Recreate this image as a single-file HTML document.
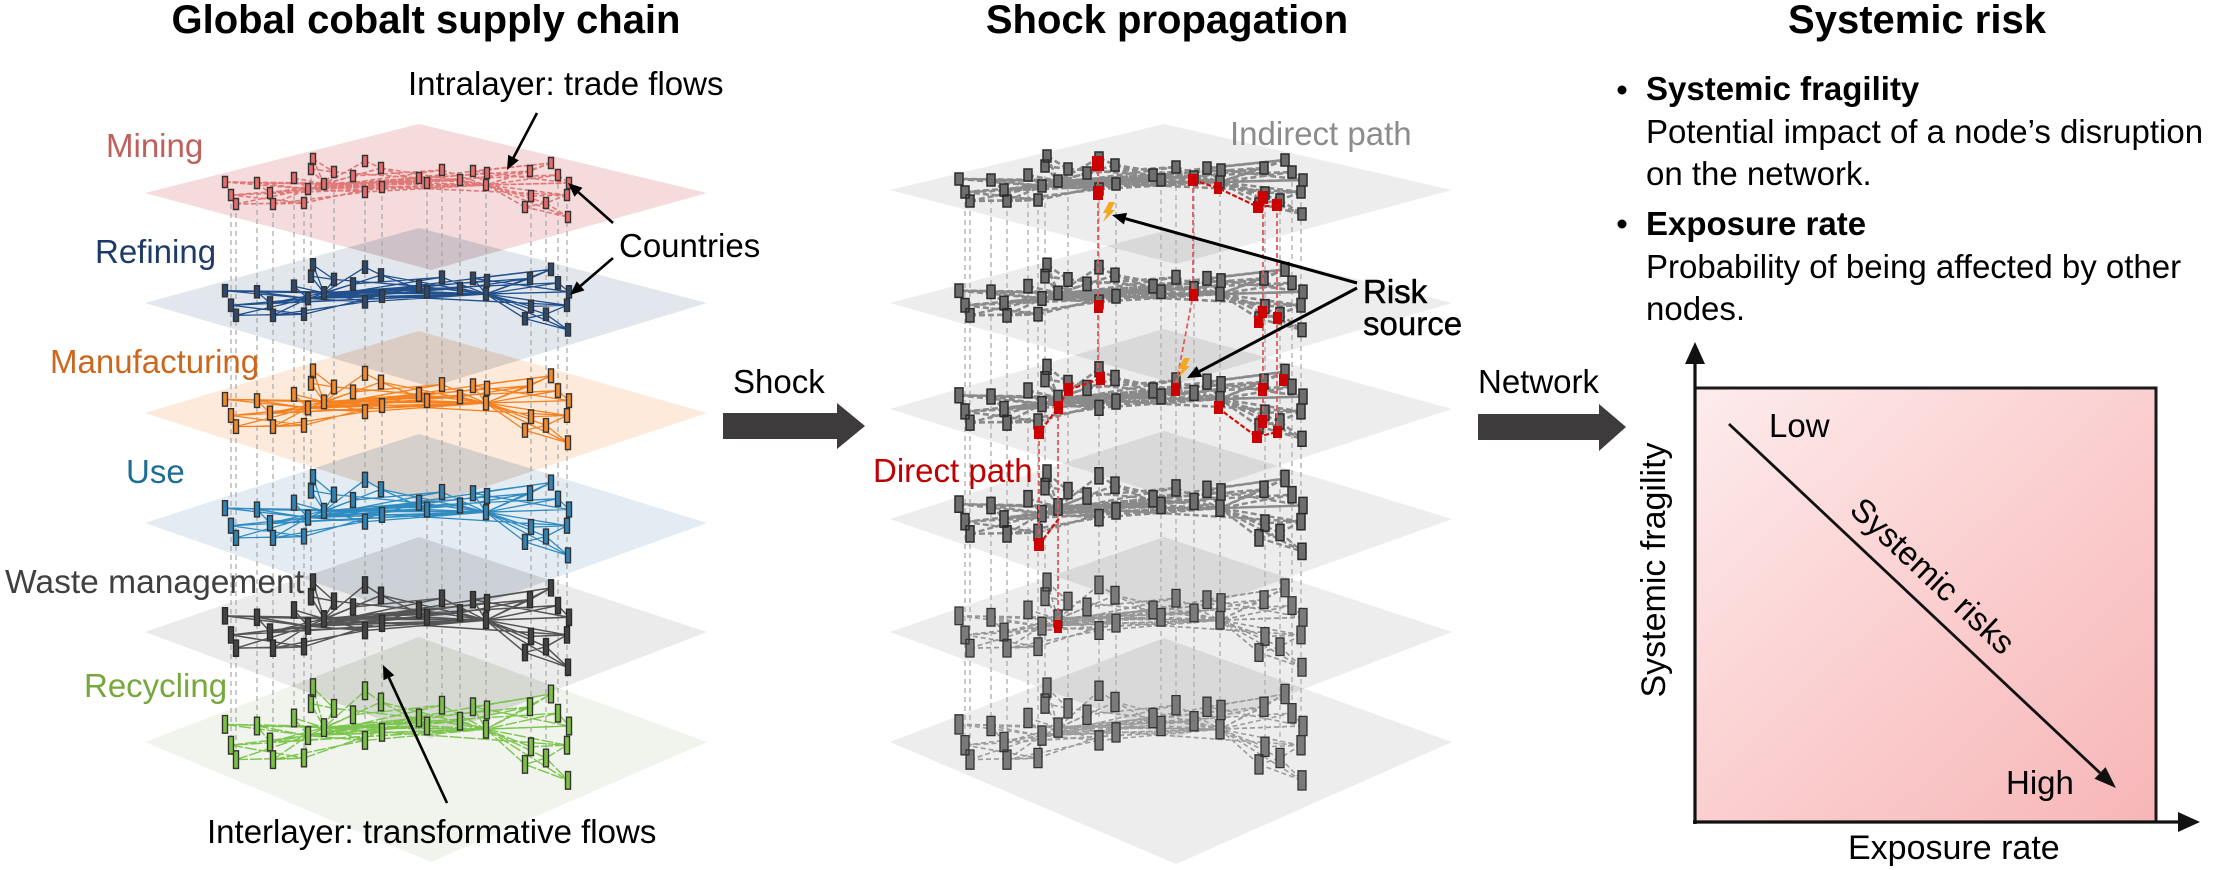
<!DOCTYPE html>
<html><head><meta charset="utf-8"><style>
html,body{margin:0;padding:0;background:#fff;}
svg{display:block;}
text{font-family:"Liberation Sans",Arial,sans-serif;}
</style></head><body>
<svg width="2213" height="870" viewBox="0 0 2213 870" xmlns="http://www.w3.org/2000/svg">
<defs>
<path id="E" fill="none" vector-effect="non-scaling-stroke" d="M225 -11L308 -4M225 -11L324 -9M257 -10L308 -4M257 -10L324 -9M257 -10L270 0M231 2L308 -4M231 2L304 10M236 11L304 10M236 11L308 -4M270 0L308 -4M270 0L324 -9M273 11L308 -4M273 11L304 10M294 -15L308 -4M294 -15L324 -9M304 10L308 -4M313 -34L324 -9M311 -24L324 -9M313 -34L334 -21M311 -24L334 -21M334 -21L324 -9M353 -17L324 -9M353 -17L308 -4M365 -32L381 -25M365 -32L324 -9M365 -1L324 -9M365 -1L308 -4M381 -25L308 -4M381 -25L427 -10M382 -6L324 -9M382 -6L308 -4M419 -15L324 -9M419 -15L308 -4M427 -10L308 -4M427 -10L324 -9M442 -23L486 -8M442 -23L308 -4M460 -13L486 -8M460 -13L324 -9M473 -22L486 -8M487 -20L486 -8M419 -15L486 -8M427 -10L486 -8M382 -6L486 -8M365 -1L486 -8M324 -9L486 -8M308 -4L486 -8M308 -4L460 -13M324 -9L460 -13M334 -21L419 -15M353 -17L442 -23M381 -25L486 -8M530 -22L486 -8M551 -30L486 -8M558 -18L486 -8M569 -10L486 -8M567 2L486 -8M531 3L486 -8M525 14L486 -8M546 10L486 -8M568 24L486 -8M551 -30L530 -22M558 -18L569 -10M567 2L531 3M531 3L525 14M525 14L546 10M546 10L568 24M525 14L568 24M567 2L546 10M530 -22L460 -13M551 -30L473 -22M569 -10L473 -22M308 -4L569 -10M324 -9L558 -18M308 -4L551 -30M324 -9L567 2M486 -8L231 2M486 -8L270 0M486 -8L225 -11M308 -4L487 -20M324 -9L530 -22M304 10L419 -15M273 11L365 -1"/>
<path id="N" vector-effect="non-scaling-stroke" d="M222.5 -16.5h5v11h-5zM254.5 -15.5h5v11h-5zM228.5 -3.5h5v11h-5zM233.5 5.5h5v11h-5zM267.5 -5.5h5v11h-5zM270.5 5.5h5v11h-5zM291.5 -20.5h5v11h-5zM301.5 4.5h5v11h-5zM305.5 -9.5h5v11h-5zM310.5 -39.5h5v11h-5zM308.5 -29.5h5v11h-5zM321.5 -14.5h5v11h-5zM331.5 -26.5h5v11h-5zM350.5 -22.5h5v11h-5zM362.5 -37.5h5v11h-5zM362.5 -6.5h5v11h-5zM378.5 -30.5h5v11h-5zM379.5 -11.5h5v11h-5zM416.5 -20.5h5v11h-5zM424.5 -15.5h5v11h-5zM439.5 -28.5h5v11h-5zM457.5 -18.5h5v11h-5zM470.5 -27.5h5v11h-5zM484.5 -25.5h5v11h-5zM483.5 -13.5h5v11h-5zM527.5 -27.5h5v11h-5zM548.5 -35.5h5v11h-5zM555.5 -23.5h5v11h-5zM566.5 -15.5h5v11h-5zM564.5 -3.5h5v11h-5zM528.5 -2.5h5v11h-5zM522.5 8.5h5v11h-5zM543.5 4.5h5v11h-5zM565.5 18.5h5v11h-5z"/>
<path id="NM" vector-effect="non-scaling-stroke" d="M221 -17h8v12h-8zM253 -16h8v12h-8zM227 -4h8v12h-8zM232 5h8v12h-8zM266 -6h8v12h-8zM269 5h8v12h-8zM290 -21h8v12h-8zM300 4h8v12h-8zM304 -10h8v12h-8zM309 -40h8v12h-8zM307 -30h8v12h-8zM320 -15h8v12h-8zM330 -27h8v12h-8zM349 -23h8v12h-8zM361 -38h8v12h-8zM361 -7h8v12h-8zM377 -31h8v12h-8zM378 -12h8v12h-8zM415 -21h8v12h-8zM423 -16h8v12h-8zM438 -29h8v12h-8zM456 -19h8v12h-8zM469 -28h8v12h-8zM483 -26h8v12h-8zM482 -14h8v12h-8zM526 -28h8v12h-8zM547 -36h8v12h-8zM554 -24h8v12h-8zM565 -16h8v12h-8zM563 -4h8v12h-8zM527 -3h8v12h-8zM521 8h8v12h-8zM542 4h8v12h-8zM564 18h8v12h-8z"/>
<path id="V" fill="none" d="M231 195V745M236 204V760M257 183V726M273 204V760M294 178V718M304 203V758M311 169V704M334 172V708M365 192V740M382 187V732M427 183V726M442 170V705M460 180V721M486 185V729M531 196V747M546 203V758M558 175V713M567 195V745"/>
<clipPath id="cl0"><polygon points="145,193 419,124 707,193 431,270"/></clipPath>
<clipPath id="cl1"><polygon points="145,303 419,228 707,303 431,387"/></clipPath>
<clipPath id="cl2"><polygon points="145,413 419,331 707,413 431,505"/></clipPath>
<clipPath id="cl3"><polygon points="145,523 419,434 707,523 431,623"/></clipPath>
<clipPath id="cl4"><polygon points="145,632 419,537 707,632 431,738"/></clipPath>
<clipPath id="cm0"><polygon points="890,190 1164,124 1452,190 1176,264"/></clipPath>
<clipPath id="cm1"><polygon points="890,303 1164,231 1452,303 1176,384"/></clipPath>
<clipPath id="cm2"><polygon points="890,409 1164,329 1452,409 1176,499"/></clipPath>
<clipPath id="cm3"><polygon points="890,519 1164,431 1452,519 1176,618"/></clipPath>
<clipPath id="cm4"><polygon points="890,632 1164,537 1452,632 1176,738"/></clipPath>
<linearGradient id="pk" x1="0" y1="0" x2="1" y2="1">
<stop offset="0" stop-color="#fdecec"/><stop offset="0.5" stop-color="#fbcfd0"/><stop offset="1" stop-color="#f7b6b8"/>
</linearGradient>
</defs>

<!-- ============ LEFT PANEL ============ -->
<text x="426" y="33" font-size="40" font-weight="bold" text-anchor="middle" fill="#000">Global cobalt supply chain</text>

<g fill-opacity="0.25">
<polygon points="145,193 419,124 707,193 431,270" fill="#d97070"/>
<polygon points="145,303 419,228 707,303 431,387" fill="#8ba0bc"/>
<polygon points="145,413 419,331 707,413 431,505" fill="#fbaa6e"/>
<polygon points="145,523 419,434 707,523 431,623" fill="#8fb4cf"/>
<polygon points="145,632 419,537 707,632 431,738" fill="#b0b0b0"/>
<polygon points="145,742 419,637 707,742 431,862" fill="#c8d4b4"/>
</g>
<g fill="#505050" fill-opacity="0.08">
<polygon points="145,303 419,228 707,303 431,387" clip-path="url(#cl0)"/>
<polygon points="145,413 419,331 707,413 431,505" clip-path="url(#cl1)"/>
<polygon points="145,523 419,434 707,523 431,623" clip-path="url(#cl2)"/>
<polygon points="145,632 419,537 707,632 431,738" clip-path="url(#cl3)"/>
<polygon points="145,742 419,637 707,742 431,862" clip-path="url(#cl4)"/>
</g>

<use href="#V" stroke="#a6a6a6" stroke-width="1.2" stroke-dasharray="5 4"/>

<use href="#E" transform="translate(0,193)" stroke="#e07878" stroke-width="1.6" stroke-dasharray="5 2.5"/>
<use href="#N" transform="translate(0,193)" fill="#e46c6c" stroke="#333" stroke-width="1.4"/>
<use href="#E" transform="translate(0,303) scale(1,1.12)" stroke="#21508d" stroke-width="1.3"/>
<use href="#N" transform="translate(0,303) scale(1,1.12)" fill="#2d4a6e" stroke="#333" stroke-width="1.4"/>
<use href="#E" transform="translate(0,413) scale(1,1.24)" stroke="#f58220" stroke-width="1.3"/>
<use href="#N" transform="translate(0,413) scale(1,1.24)" fill="#f28a2a" stroke="#333" stroke-width="1.4"/>
<use href="#E" transform="translate(0,523) scale(1,1.35)" stroke="#2f8cc2" stroke-width="1.3"/>
<use href="#N" transform="translate(0,523) scale(1,1.35)" fill="#3083b5" stroke="#333" stroke-width="1.4"/>
<use href="#E" transform="translate(0,632) scale(1,1.47)" stroke="#555" stroke-width="1.5"/>
<use href="#N" transform="translate(0,632) scale(1,1.47)" fill="#444" stroke="#2a2a2a" stroke-width="1.4"/>
<use href="#E" transform="translate(0,742) scale(1,1.6)" stroke="#7cc54e" stroke-width="1.4" stroke-dasharray="12 2"/>
<use href="#N" transform="translate(0,742) scale(1,1.6)" fill="#7cc044" stroke="#333" stroke-width="1.4"/>

<g font-size="33">
<text x="106" y="157" fill="#c0605c">Mining</text>
<text x="95" y="263" fill="#1e3a68">Refining</text>
<text x="50" y="373" fill="#cc671e">Manufacturing</text>
<text x="126" y="483" fill="#1f6d96">Use</text>
<text x="5" y="593" fill="#404040" textLength="299" lengthAdjust="spacingAndGlyphs">Waste management</text>
<text x="84" y="697" fill="#76a83c">Recycling</text>
<text x="408" y="95" fill="#000">Intralayer: trade flows</text>
<text x="619" y="257" fill="#000">Countries</text>
<text x="207" y="843" fill="#000">Interlayer: transformative flows</text>
</g>

<g stroke="#000" stroke-width="2.6" fill="none">
<path d="M537 113L513.5 157.6"/>
<path d="M613 223L578.5 192.3"/>
<path d="M613 258L580.6 285.9"/>
<path d="M447 803L388.9 677.7"/>
</g>
<g fill="#000">
<polygon points="507,170 508.2,154.8 518.8,160.4"/>
<polygon points="568,183 582.5,187.8 574.5,196.8"/>
<polygon points="570,295 576.7,281.4 584.5,290.4"/>
<polygon points="383,665 394.3,675.2 383.5,680.2"/>
</g>

<!-- Shock arrow -->
<polygon points="723,413 837,413 837,403 865,426 837,449 837,439 723,439" fill="#3d3b3b"/>
<text x="733" y="393" font-size="33" fill="#000">Shock</text>

<!-- ============ MIDDLE PANEL ============ -->
<text x="1167" y="33" font-size="40" font-weight="bold" text-anchor="middle" fill="#000">Shock propagation</text>

<g fill="#b4b4b4" fill-opacity="0.24">
<polygon points="890,190 1164,124 1452,190 1176,264"/>
<polygon points="890,303 1164,231 1452,303 1176,384"/>
<polygon points="890,409 1164,329 1452,409 1176,499"/>
<polygon points="890,519 1164,431 1452,519 1176,618"/>
<polygon points="890,632 1164,537 1452,632 1176,738"/>
<polygon points="890,742 1164,638 1452,742 1176,864"/>
</g>
<g fill="#707070" fill-opacity="0.05">
<polygon points="890,303 1164,231 1452,303 1176,384" clip-path="url(#cm0)"/>
<polygon points="890,409 1164,329 1452,409 1176,499" clip-path="url(#cm1)"/>
<polygon points="890,519 1164,431 1452,519 1176,618" clip-path="url(#cm2)"/>
<polygon points="890,632 1164,537 1452,632 1176,738" clip-path="url(#cm3)"/>
<polygon points="890,742 1164,638 1452,742 1176,864" clip-path="url(#cm4)"/>
</g>

<use href="#V" transform="translate(734,-2)" stroke="#b5b5b5" stroke-width="1.5" stroke-dasharray="5 4"/>

<use href="#E" transform="translate(734,190)" stroke="#8a8a8a" stroke-width="2.6" stroke-dasharray="6 3"/>
<use href="#NM" transform="translate(734,190)" fill="#6e6e6e" stroke="#2b2b2b" stroke-width="1.5"/>
<use href="#E" transform="translate(734,303) scale(1,1.12)" stroke="#8a8a8a" stroke-width="2.6" stroke-dasharray="6 3"/>
<use href="#NM" transform="translate(734,303) scale(1,1.12)" fill="#6e6e6e" stroke="#2b2b2b" stroke-width="1.5"/>
<use href="#E" transform="translate(734,409) scale(1,1.24)" stroke="#8a8a8a" stroke-width="2.6" stroke-dasharray="6 3"/>
<use href="#NM" transform="translate(734,409) scale(1,1.24)" fill="#6e6e6e" stroke="#2b2b2b" stroke-width="1.5"/>
<use href="#E" transform="translate(734,519) scale(1,1.35)" stroke="#8a8a8a" stroke-width="2.4" stroke-dasharray="6 3"/>
<use href="#NM" transform="translate(734,519) scale(1,1.35)" fill="#6e6e6e" stroke="#2b2b2b" stroke-width="1.5"/>
<use href="#E" transform="translate(734,632) scale(1,1.47)" stroke="#979797" stroke-width="1.7" stroke-dasharray="5 3"/>
<use href="#NM" transform="translate(734,632) scale(1,1.47)" fill="#7a7a7a" stroke="#333" stroke-width="1.3"/>
<use href="#E" transform="translate(734,742) scale(1,1.6)" stroke="#9c9c9c" stroke-width="1.6" stroke-dasharray="5 3"/>
<use href="#NM" transform="translate(734,742) scale(1,1.6)" fill="#7a7a7a" stroke="#333" stroke-width="1.3"/>

<!-- red direct path -->
<path d="M1098 163V379M1193 180V295L1175 390M1263 198V422M1277 205V432M1058 408V627M1039 433V545" fill="none" stroke="#e05a5a" stroke-width="1.8" stroke-dasharray="5 3"/>
<path d="M1193 180L1218 188L1258 207L1277 205M1100 379L1068 390L1058 408L1039 433M1218 408L1257 437L1277 432M1262 422L1257 437M1039 545L1060 517" fill="none" stroke="#d01010" stroke-width="2.2" stroke-dasharray="5 2"/>
<g fill="#cc0000">
<rect x="1092" y="156" width="12" height="15"/>
<rect x="1093" y="186" width="10" height="14"/>
<rect x="1188" y="174" width="10" height="12"/>
<rect x="1214" y="182" width="8" height="12"/>
<rect x="1258" y="191" width="10" height="13"/>
<rect x="1253" y="201" width="10" height="12"/>
<rect x="1272" y="199" width="10" height="12"/>
<rect x="1094" y="300" width="9" height="13"/>
<rect x="1189" y="289" width="9" height="12"/>
<rect x="1258" y="306" width="9" height="12"/>
<rect x="1273" y="312" width="9" height="12"/>
<rect x="1254" y="316" width="9" height="12"/>
<rect x="1096" y="372" width="9" height="13"/>
<rect x="1064" y="383" width="9" height="13"/>
<rect x="1054" y="401" width="9" height="13"/>
<rect x="1034" y="426" width="10" height="13"/>
<rect x="1171" y="383" width="9" height="13"/>
<rect x="1214" y="401" width="9" height="13"/>
<rect x="1258" y="383" width="9" height="13"/>
<rect x="1279" y="374" width="9" height="12"/>
<rect x="1258" y="415" width="9" height="13"/>
<rect x="1273" y="426" width="9" height="12"/>
<rect x="1252" y="431" width="10" height="12"/>
<rect x="1034" y="538" width="10" height="13"/>
<rect x="1054" y="620" width="8" height="13"/>
</g>
<g fill="#f5a623">
<polygon points="1109,202 1115,202 1111,210 1115,210 1103,222 1107,213 1103,213"/>
<polygon points="1184,358 1190,358 1186,366 1190,366 1178,378 1182,369 1178,369"/>
</g>

<text x="1230" y="145" font-size="33" fill="#8c8c8c">Indirect path</text>
<text x="873" y="482" font-size="33" fill="#c00000">Direct path</text>
<text x="1363" y="303" font-size="33" fill="#000" stroke="#000" stroke-width="0.6">Risk</text>
<text x="1363" y="335" font-size="33" fill="#000" stroke="#000" stroke-width="0.4">source</text>

<g stroke="#000" stroke-width="3" fill="none">
<path d="M1357 283L1125.5 218.7"/>
<path d="M1357 288L1199.4 371.4"/>
</g>
<g fill="#000">
<polygon points="1112,215 1127.1,212.9 1123.9,224.5"/>
<polygon points="1187,378 1196.6,366.1 1202.2,376.7"/>
</g>

<!-- Network arrow -->
<polygon points="1478,414 1599,414 1599,404 1626,427 1599,451 1599,440 1478,440" fill="#3d3b3b"/>
<text x="1478" y="393" font-size="33" fill="#000">Network</text>

<!-- ============ RIGHT PANEL ============ -->
<text x="1917" y="33" font-size="40" font-weight="bold" text-anchor="middle" fill="#000">Systemic risk</text>
<circle cx="1622" cy="90" r="4.5" fill="#000"/>
<circle cx="1622" cy="224" r="4.5" fill="#000"/>
<g font-size="33" fill="#000">
<text x="1646" y="100" font-weight="bold">Systemic fragility</text>
<text x="1646" y="143">Potential impact of a node’s disruption</text>
<text x="1646" y="185">on the network.</text>
<text x="1646" y="235" font-weight="bold">Exposure rate</text>
<text x="1646" y="278">Probability of being affected by other</text>
<text x="1646" y="320">nodes.</text>
</g>

<rect x="1695" y="388" width="461" height="434" fill="url(#pk)" stroke="#1a1a1a" stroke-width="3"/>
<path d="M1695 824V358M1693 822H2182" stroke="#111" stroke-width="3.2" fill="none"/>
<polygon points="1695,342 1685,364 1705,364" fill="#111"/>
<polygon points="2200,822 2178,812 2178,832" fill="#111"/>
<path d="M1729 424L2100 772.9" stroke="#111" stroke-width="2.8" fill="none"/>
<polygon points="2116,788 2094.5,778.7 2105.5,767.1" fill="#111"/>

<g font-size="33" fill="#000">
<text x="1769" y="437">Low</text>
<text x="2006" y="794">High</text>
<text transform="translate(1925,584) rotate(43.2)" text-anchor="middle">Systemic risks</text>
<text transform="translate(1665,570) rotate(-90)" text-anchor="middle" font-size="34">Systemic fragility</text>
<text x="1848" y="859" font-size="34">Exposure rate</text>
</g>
</svg>
</body></html>
